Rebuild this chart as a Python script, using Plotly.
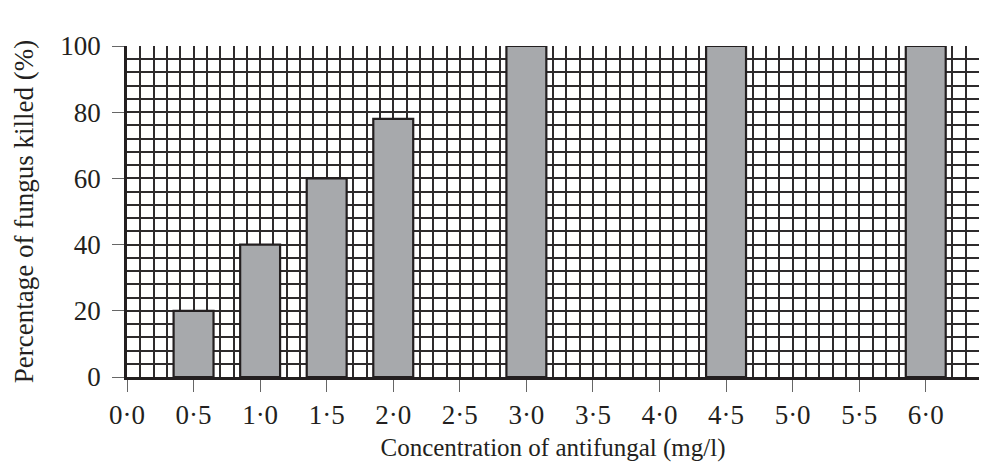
import plotly.graph_objects as go

concentration = [0.5, 1.0, 1.5, 2.0, 3.0, 4.5, 6.0]
percent_killed = [20, 40, 60, 78, 100, 100, 100]
x_tick_vals = [0.0, 0.5, 1.0, 1.5, 2.0, 2.5, 3.0, 3.5, 4.0, 4.5, 5.0, 5.5, 6.0]
x_tick_text = ["0·0", "0·5", "1·0", "1·5", "2·0", "2·5", "3·0", "3·5", "4·0", "4·5", "5·0", "5·5", "6·0"]
y_tick_vals = [0, 20, 40, 60, 80, 100]

INK = "#231f20"
FONT = "Liberation Serif"
FS = 26

fig = go.Figure()
fig.add_trace(go.Bar(
    x=concentration, y=percent_killed, width=0.3,
    marker=dict(color="#a7a9ac", line=dict(color=INK, width=2.2)),
    hoverinfo="x+y",
))

grid_color = "#2e2b2c"
fig.update_layout(
    width=981, height=469,
    margin=dict(l=127, r=2, t=46, b=92, autoexpand=False),
    paper_bgcolor="white", plot_bgcolor="white",
    showlegend=False,
    font=dict(family=FONT, size=FS, color=INK),
    xaxis=dict(
        range=[0, 6.4], automargin=False,
        tickmode="array", tickvals=x_tick_vals, ticktext=x_tick_text,
        ticks="outside", ticklen=12, tickwidth=1, tickcolor="#666",
        showgrid=True, gridcolor=grid_color, gridwidth=1.6,
        minor=dict(dtick=0.1, tick0=0, showgrid=True, gridcolor=grid_color, gridwidth=1.6, ticks=""),
        showline=True, linecolor=INK, linewidth=2.5,
        zeroline=False,
        tickfont=dict(family=FONT, size=FS + 1, color=INK),
        title=dict(text="Concentration of antifungal (mg/l)", font=dict(family=FONT, size=FS - 1, color=INK), standoff=10),
    ),
    yaxis=dict(
        range=[0, 100], automargin=False,
        tickmode="array", tickvals=y_tick_vals,
        ticks="outside", ticklen=12, tickwidth=1, tickcolor="#666",
        ticklabelstandoff=6,
        showgrid=True, gridcolor=grid_color, gridwidth=1.6,
        minor=dict(dtick=4, tick0=0, showgrid=True, gridcolor=grid_color, gridwidth=1.6, ticks=""),
        showline=True, linecolor=INK, linewidth=2.5,
        zeroline=False,
        tickfont=dict(family=FONT, size=FS + 1, color=INK),
        title=dict(text="Percentage of fungus killed (%)", font=dict(family=FONT, size=FS + 1, color=INK), standoff=19),
    ),
)

fig.write_html("out.html", config={"displayModeBar": False})
with open("out.html", encoding="utf-8") as f:
    html = f.read()
html = html.replace("<body>", '<body style="margin:0;padding:0;overflow:hidden">', 1)
with open("out.html", "w", encoding="utf-8") as f:
    f.write(html)
